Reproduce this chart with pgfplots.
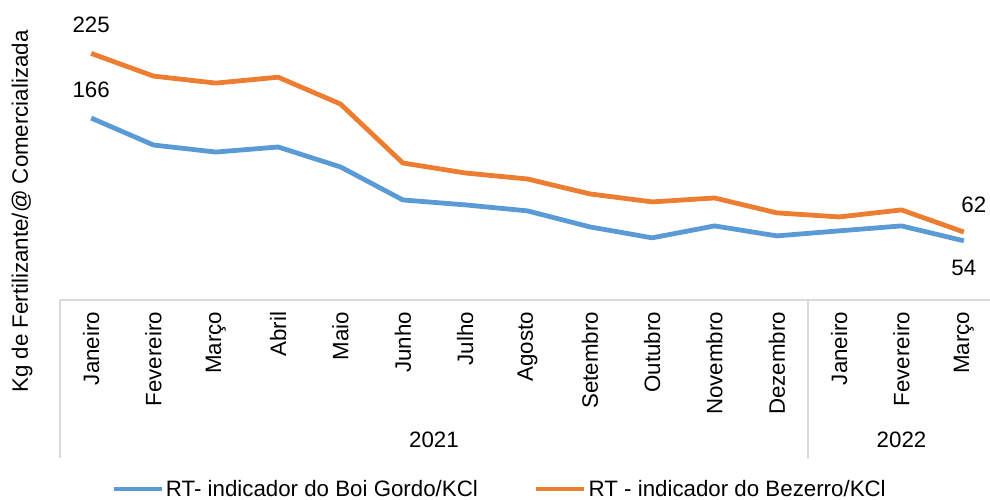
\documentclass[border=0pt]{standalone}
\usepackage{fontspec}
\setmainfont{Liberation Sans}
\usepackage{pgfplots}
\pgfplotsset{compat=1.18}
\definecolor{boi}{HTML}{5B9BD5}
\definecolor{bez}{HTML}{ED7D31}
\definecolor{eixo}{HTML}{D9D9D9}
\newcommand\fs{\fontsize{22.3}{26}\selectfont}

\begin{document}
\begin{tikzpicture}
\begin{axis}[
    at={(60pt,-300pt)}, anchor=south west,
    scale only axis, width=935pt, height=274pt,
    xmin=-0.5, xmax=14.5, ymin=0, ymax=250,
    axis x line=bottom, axis y line=none,
    x axis line style={eixo, line width=1.2pt, -},
    xtick={0,...,14}, major tick length=0pt,
    xticklabels={Janeiro,Fevereiro,Março,Abril,Maio,Junho,Julho,Agosto,Setembro,Outubro,Novembro,Dezembro,Janeiro,Fevereiro,Março},
    xticklabel style={rotate=90, anchor=east, font=\fs, inner sep=0pt, outer sep=0pt},
    xticklabel shift=12pt,
    clip=false,
    legend style={at={(0.47,-0.69)}, anchor=center, draw=none, fill=none,
        font=\fs, legend columns=-1, inner xsep=0pt,
        /tikz/every even column/.append style={column sep=54pt}},
    legend image code/.code={\draw[#1] (0pt,0pt) -- (48pt,0pt);},
]
\addplot[boi, line width=4.8pt, line join=round] coordinates {
  (0,166) (1,141.4) (2,135) (3,139.6) (4,121.4) (5,91.3) (6,86.8) (7,81.3)
  (8,66.7) (9,56.7) (10,67.6) (11,58.5) (12,63.1) (13,67.6) (14,54)
};
\addplot[bez, line width=4.8pt, line join=round] coordinates {
  (0,225) (1,204.3) (2,197.9) (3,203.3) (4,178.8) (5,125) (6,115.9) (7,110.4)
  (8,96.8) (9,89.5) (10,93.1) (11,79.5) (12,75.8) (13,82.2) (14,62)
};
\legend{RT- indicador do Boi Gordo/KCl, RT - indicador do Bezerro/KCl}

\draw[eixo, line width=1.2pt] (axis cs:-0.5,0) -- ++(0pt,-158pt);
\draw[eixo, line width=1.2pt] (axis cs:11.5,0) -- ++(0pt,-158pt);

\node[font=\fs, yshift=29pt] at (axis cs:0,225) {225};
\node[font=\fs, yshift=28pt] at (axis cs:0,166) {166};
\node[font=\fs, xshift=10pt, yshift=27pt] at (axis cs:14,62) {62};
\node[font=\fs, yshift=-27pt] at (axis cs:14,54) {54};

\node[font=\fs, yshift=-140pt] at (axis cs:5.5,0) {2021};
\node[font=\fs, yshift=-140pt] at (axis cs:13,0) {2022};
\end{axis}
\node[font=\fs, rotate=90] at (22pt,-211.5pt) {Kg de Fertilizante/@ Comercializada};
\pgfresetboundingbox
\useasboundingbox (0pt,0pt) rectangle (990pt,-500pt);
\end{tikzpicture}
\end{document}
